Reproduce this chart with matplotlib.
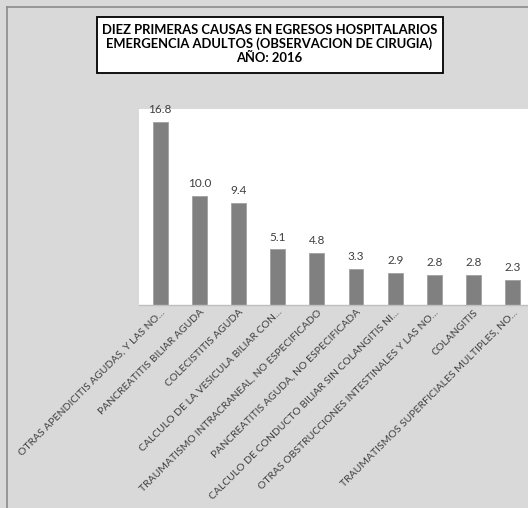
import matplotlib
matplotlib.use("Agg")
import matplotlib.pyplot as plt
from matplotlib.lines import Line2D

causas = [
    "OTRAS APENDICITIS AGUDAS, Y LAS NO...",
    "PANCREATITIS BILIAR AGUDA",
    "COLECISTITIS AGUDA",
    "CALCULO DE LA VESICULA BILIAR CON...",
    "TRAUMATISMO INTRACRANEAL, NO ESPECIFICADO",
    "PANCREATITIS AGUDA, NO ESPECIFICADA",
    "CALCULO DE CONDUCTO BILIAR SIN COLANGITIS NI...",
    "OTRAS OBSTRUCCIONES INTESTINALES Y LAS NO...",
    "COLANGITIS",
    "TRAUMATISMOS SUPERFICIALES MULTIPLES, NO...",
]
porcentajes = [16.8, 10.0, 9.4, 5.1, 4.8, 3.3, 2.9, 2.8, 2.8, 2.3]

titulo = ("DIEZ PRIMERAS CAUSAS EN EGRESOS HOSPITALARIOS\n"
          "EMERGENCIA ADULTOS (OBSERVACION DE CIRUGIA)\n"
          "AÑO: 2016")

fondo = "#d9d9d9"
texto = "#404040"
fuente = ["Lato", "DejaVu Sans"]

fig = plt.figure(figsize=(5.28, 5.08), dpi=100, facecolor=fondo)
ax = fig.add_axes([139 / 528, 1 - 305 / 508, 1 - 139 / 528, (305 - 109) / 508])
ax.set_facecolor("white")

x = list(range(len(causas)))
ax.bar(x, porcentajes, width=0.38, color="#808080", edgecolor="#a0a0a0", linewidth=0.6)

for xi, v in zip(x, porcentajes):
    ax.annotate(f"{v:.1f}", (xi, v), xytext=(0, 5), textcoords="offset points",
                ha="center", va="bottom", fontsize=8.5, color=texto, family=fuente)

ax.set_xlim(-0.54, 9.39)
ax.set_ylim(0, 18)
ax.set_yticks([])
ax.set_xticks(x)
ax.set_xticklabels(causas, rotation=45, ha="right", va="top", rotation_mode="anchor",
                   fontsize=7.5, color=texto, family=fuente)
ax.tick_params(axis="x", length=0, pad=2)
for s in ["top", "left", "right"]:
    ax.spines[s].set_visible(False)
ax.spines["bottom"].set_color("#bfbfbf")
ax.spines["bottom"].set_linewidth(1.0)

# caja del titulo
caja = plt.Rectangle((97 / 528, 1 - 73 / 508), (443 - 97) / 528, (73 - 17) / 508,
                     transform=fig.transFigure, facecolor="white", edgecolor="black",
                     linewidth=1.3, zorder=1)
fig.add_artist(caja)
fig.text(269.5 / 528, 1 - 44 / 508, titulo, ha="center", va="center",
         fontsize=9.4, fontweight="bold", color="black", family=fuente,
         linespacing=1.2, zorder=2)

# borde exterior
fig.add_artist(Line2D([6.5 / 528, 6.5 / 528], [0, 1 - 7 / 508], transform=fig.transFigure,
                      color="#8c8c8c", linewidth=1.2))
fig.add_artist(Line2D([6.5 / 528, 1], [1 - 7 / 508, 1 - 7 / 508], transform=fig.transFigure,
                      color="#8c8c8c", linewidth=1.2))

fig.savefig("out.png", dpi=100, facecolor=fondo)
